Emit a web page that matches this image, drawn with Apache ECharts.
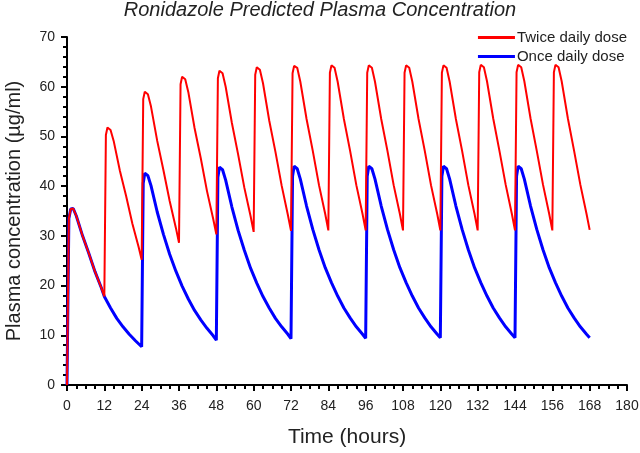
<!DOCTYPE html>
<html>
<head>
<meta charset="utf-8">
<script src="https://cdn.jsdelivr.net/npm/echarts@6/dist/echarts.min.js"></script>
<style>html,body{margin:0;padding:0;background:#fff}#c{width:640px;height:453px}</style>
</head>
<body>
<div id="c"></div>
<script>
const titleText = 'Ronidazole Predicted Plasma Concentration';
const seriesNames = ['Twice daily dose', 'Once daily dose'];
const xTicks = [0, 12, 24, 36, 48, 60, 72, 84, 96, 108, 120, 132, 144, 156, 168, 180];
const yTicks = [0, 10, 20, 30, 40, 50, 60, 70];

const twiceTimes = [
  0, 0.6, 1.2, 2, 3, 5, 7, 9, 11,
  12, 12.5, 13, 14, 15, 17, 19, 21, 23,
  24, 24.5, 25, 26, 27, 29, 31, 33, 35,
  36, 36.5, 37, 38, 39, 41, 43, 45, 47,
  48, 48.5, 49, 50, 51, 53, 55, 57, 59,
  60, 60.5, 61, 62, 63, 65, 67, 69, 71,
  72, 72.5, 73, 74, 75, 77, 79, 81, 83,
  84, 84.5, 85, 86, 87, 89, 91, 93, 95,
  96, 96.5, 97, 98, 99, 101, 103, 105, 107,
  108, 108.5, 109, 110, 111, 113, 115, 117, 119,
  120, 120.5, 121, 122, 123, 125, 127, 129, 131,
  132, 132.5, 133, 134, 135, 137, 139, 141, 143,
  144, 144.5, 145, 146, 147, 149, 151, 153, 155,
  156, 156.5, 157, 158, 159, 161, 163, 165, 167,
  168
];
const twiceConc = [
  0, 33.5, 35.4, 35.5, 34.0, 30.0, 26.5, 22.8, 19.6,
  17.8, 50.3, 51.8, 51.3, 49.1, 43.1, 38.0, 32.5, 27.8,
  25.2, 57.5, 59.0, 58.5, 56.0, 49.1, 43.2, 37.0, 31.6,
  28.6, 60.5, 62.0, 61.5, 58.9, 51.7, 45.6, 39.0, 33.4,
  30.3, 61.7, 63.2, 62.7, 60.0, 52.7, 46.4, 39.7, 34.0,
  30.8, 62.4, 63.9, 63.4, 60.7, 53.2, 46.9, 40.1, 34.2,
  31.0, 62.7, 64.2, 63.8, 61.0, 53.5, 47.1, 40.2, 34.4,
  31.1, 62.8, 64.3, 63.8, 61.0, 53.5, 47.1, 40.2, 34.4,
  31.1, 62.8, 64.3, 63.8, 61.0, 53.5, 47.1, 40.2, 34.4,
  31.1, 62.8, 64.3, 63.8, 61.0, 53.5, 47.1, 40.2, 34.4,
  31.1, 62.8, 64.3, 63.8, 61.0, 53.5, 47.1, 40.2, 34.4,
  31.1, 62.9, 64.4, 63.9, 61.1, 53.6, 47.1, 40.3, 34.4,
  31.1, 62.9, 64.4, 63.9, 61.1, 53.6, 47.1, 40.3, 34.4,
  31.1, 62.9, 64.4, 63.9, 61.1, 53.6, 47.1, 40.3, 34.4,
  31.2
];

const onceTimes = [
  0, 0.6, 1.2, 2, 3, 5, 7, 9, 11, 12, 14, 16, 18, 20, 22,
  24, 24.5, 25, 26, 27, 29, 31, 33, 35, 37, 39, 41, 43, 45, 47,
  48, 48.5, 49, 50, 51, 53, 55, 57, 59, 61, 63, 65, 67, 69, 71,
  72, 72.5, 73, 74, 75, 77, 79, 81, 83, 85, 87, 89, 91, 93, 95,
  96, 96.5, 97, 98, 99, 101, 103, 105, 107, 109, 111, 113, 115, 117, 119,
  120, 120.5, 121, 122, 123, 125, 127, 129, 131, 133, 135, 137, 139, 141, 143,
  144, 144.5, 145, 146, 147, 149, 151, 153, 155, 157, 159, 161, 163, 165, 167,
  168
];
const onceConc = [
  0, 33.5, 35.4, 35.5, 34.0, 30.0, 26.5, 22.8, 19.6, 17.8, 15.5, 13.4, 11.7, 10.2, 8.9,
  7.7, 40.6, 42.6, 42.1, 40.1, 34.8, 30.3, 26.3, 22.9, 19.9, 17.3, 15.0, 13.1, 11.4, 9.9,
  9.0, 41.8, 43.8, 43.3, 41.2, 35.8, 31.1, 27.1, 23.5, 20.5, 17.8, 15.5, 13.4, 11.7, 10.2,
  9.3, 42.0, 44.0, 43.5, 41.4, 36.0, 31.3, 27.2, 23.6, 20.6, 17.9, 15.5, 13.5, 11.7, 10.2,
  9.4, 42.0, 44.0, 43.5, 41.4, 36.0, 31.3, 27.2, 23.6, 20.6, 17.9, 15.5, 13.5, 11.7, 10.2,
  9.5, 42.0, 44.0, 43.5, 41.4, 36.0, 31.3, 27.2, 23.6, 20.6, 17.9, 15.5, 13.5, 11.7, 10.2,
  9.5, 42.0, 44.0, 43.5, 41.4, 36.0, 31.3, 27.2, 23.6, 20.6, 17.9, 15.5, 13.5, 11.7, 10.2,
  9.5
];

const zip = (xs, ys) => xs.map((x, i) => [x, ys[i]]);
const font = '"Liberation Sans", Arial, sans-serif';
const axisColor = '#000';

const chart = echarts.init(document.getElementById('c'), null, {renderer: 'canvas'});
chart.setOption({
  animation: false,
  backgroundColor: '#fff',
  title: {
    text: titleText,
    left: 'center',
    top: 0,
    padding: 0,
    textStyle: {fontFamily: font, fontStyle: 'italic', fontWeight: 'normal', fontSize: 20, color: '#222'}
  },
  legend: {
    data: seriesNames.map(n => ({name: n, icon: 'rect'})),
    orient: 'vertical',
    right: 13,
    top: 30,
    padding: 0,
    itemWidth: 37,
    itemHeight: 3,
    itemGap: 4,
    textStyle: {fontFamily: font, fontSize: 15, color: '#222', padding: [0, 0, 0, -3]}
  },
  grid: {left: 67, right: 13, top: 37, bottom: 68, containLabel: false, outerBoundsMode: 'none'},
  xAxis: {
    type: 'value',
    min: xTicks[0],
    max: xTicks[xTicks.length - 1],
    interval: 12,
    name: 'Time (hours)',
    nameLocation: 'middle',
    nameGap: 42,
    nameTextStyle: {fontFamily: font, fontSize: 21, color: '#222'},
    axisLine: {lineStyle: {color: axisColor, width: 2}},
    axisTick: {show: true, length: 6, lineStyle: {color: axisColor, width: 2}},
    minorTick: {show: true, splitNumber: 4, length: 4, lineStyle: {color: axisColor, width: 2}},
    axisLabel: {fontFamily: font, fontSize: 14, color: '#222', margin: 14},
    splitLine: {show: false}
  },
  yAxis: {
    type: 'value',
    min: yTicks[0],
    max: yTicks[yTicks.length - 1],
    interval: 10,
    name: 'Plasma concentration (µg/ml)',
    nameLocation: 'middle',
    nameGap: 43,
    nameTextStyle: {fontFamily: font, fontSize: 20, color: '#222'},
    axisLine: {show: true, lineStyle: {color: axisColor, width: 2}},
    axisTick: {show: true, length: 6, lineStyle: {color: axisColor, width: 2}},
    minorTick: {show: true, splitNumber: 5, length: 4, lineStyle: {color: axisColor, width: 2}},
    axisLabel: {fontFamily: font, fontSize: 14, color: '#222', margin: 12},
    splitLine: {show: false}
  },
  series: [
    {
      name: seriesNames[1],
      type: 'line',
      data: zip(onceTimes, onceConc),
      showSymbol: false,
      symbol: 'none',
      color: '#0000ff',
      lineStyle: {color: '#0000ff', width: 3},
      z: 2
    },
    {
      name: seriesNames[0],
      type: 'line',
      data: zip(twiceTimes, twiceConc),
      showSymbol: false,
      symbol: 'none',
      color: '#ff0000',
      lineStyle: {color: '#ff0000', width: 2},
      z: 3
    }
  ]
});
</script>
</body>
</html>
